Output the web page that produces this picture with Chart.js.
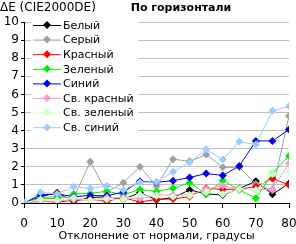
<!DOCTYPE html>
<html>
<head>
<meta charset="utf-8">
<script src="https://cdn.jsdelivr.net/npm/chart.js@4/dist/chart.umd.min.js"></script>
<style>
html, body { margin: 0; padding: 0; background: #fff; }
#wrap { width: 296px; height: 244px; }
</style>
</head>
<body>
<div id="wrap"><canvas id="chart"></canvas></div>
<script>
const angles = [0, 5, 10, 15, 20, 25, 30, 35, 40, 45, 50, 55, 60, 65, 70, 75, 80];
const seriesNames = ['Белый', 'Серый', 'Красный', 'Зеленый', 'Синий', 'Св. красный', 'Св. зеленый', 'Св. синий'];
const seriesColors = ['#000000', '#a0a0a0', '#ff0000', '#00ee00', '#0000ee', '#ff99cc', '#ccffcc', '#99ccff'];

const white = [0, 0.35, 0.57, 0.1, 0.3, 0.35, 0.2, 0.57, 0.18, 0.3, 0.72, 0.5, 0.44, 0.8, 1.2, 0.48, 1.08];
const gray = [0, 0.3, 0.35, 0.27, 2.28, 0.6, 1.12, 2.0, 0.93, 2.42, 2.3, 2.68, 1.97, 1.97, 1.05, 0.7, 4.8];
const red = [0, 0.1, 0.05, 0.15, 0.2, 0.1, 0.3, 0.05, 0.2, 0.22, 0.35, 0.81, 0.75, 0.77, 0.9, 1.36, 0.99];
const green = [0, 0.25, 0.25, 0.5, 0.53, 0.65, 0.45, 0.75, 0.64, 0.81, 1.12, 0.5, 1.25, 0.72, 0.26, 1.63, 2.6];
const blue = [0, 0.45, 0.5, 0.35, 0.42, 0.4, 0.6, 1.2, 1.15, 1.23, 1.41, 1.63, 1.52, 2.04, 3.43, 3.43, 4.06];
const lightRed = [0, 0.1, 0.1, 0.2, 0.15, 0.3, 0.3, 0.25, 0.44, 0.45, 0.45, 0.77, 0.95, 0.77, 0.72, 0.77, 2.19];
const lightGreen = [0, 0.2, 0.15, 0.3, 0.15, 0.2, 0.2, 0.45, 0.4, 0.35, 0.4, 0.6, 0.48, 0.77, 0.72, 1.6, 1.72];
const lightBlue = [0, 0.6, 0.5, 0.9, 0.8, 0.95, 0.72, 1.15, 1.17, 1.72, 2.24, 2.97, 2.4, 3.38, 3.23, 5.09, 5.34];

const seriesValues = [white, gray, red, green, blue, lightRed, lightGreen, lightBlue];

const chartTitle = 'По горизонтали';
const yTitle = 'ΔE (CIE2000DE)';
const xTitle = 'Отклонение от нормали, градусы';

const FONT = "'DejaVu Sans', sans-serif";
Chart.defaults.font.family = FONT;
Chart.defaults.color = '#000';

const datasets = seriesValues.map((vals, i) => {
    return {
        label: seriesNames[i],
        data: vals.map((v, j) => ({ x: angles[j], y: v })),
        borderColor: seriesColors[i],
        backgroundColor: seriesColors[i],
        borderWidth: 1,
        pointStyle: 'rectRot',
        pointRadius: 4,
        pointBorderWidth: 0,
        order: seriesValues.length - i
    }
})

// legend inside the plot + titles, drawn by hand
const overlay = {
    id: 'overlay',
    afterDraw(chart) {
        const ctx = chart.ctx;
        ctx.save();
        ctx.fillStyle = '#fff';
        ctx.fillRect(31, 16, 107, 118);
        ctx.font = '11px ' + FONT;
        ctx.textBaseline = 'middle';
        ctx.textAlign = 'left';
        seriesNames.forEach((name, i) => {
            const y = 25 + i * 14.6;
            ctx.strokeStyle = seriesColors[i];
            ctx.lineWidth = 1;
            ctx.beginPath();
            ctx.moveTo(33, y + 0.5);
            ctx.lineTo(61, y + 0.5);
            ctx.stroke();
            ctx.fillStyle = seriesColors[i];
            ctx.beginPath();
            ctx.moveTo(47, y - 4);
            ctx.lineTo(51, y);
            ctx.lineTo(47, y + 4);
            ctx.lineTo(43, y);
            ctx.closePath();
            ctx.fill();
            ctx.fillStyle = '#000';
            ctx.fillText(name, 63, y + 1);
        });
        ctx.font = 'bold 11px ' + FONT;
        ctx.textAlign = 'center';
        ctx.fillText(chartTitle, 181, 8);
        ctx.font = '12px ' + FONT;
        ctx.textAlign = 'left';
        ctx.fillText(yTitle, 0, 8);
        ctx.restore();
    }
}

new Chart(document.getElementById('chart'), {
    type: 'line',
    data: { datasets: datasets },
    plugins: [overlay],
    options: {
        animation: false,
        responsive: true,
        maintainAspectRatio: false,
        layout: { padding: { top: 22, right: 7, left: 0, bottom: 0 } },
        plugins: {
            legend: { display: false },
            title: { display: false },
            tooltip: { enabled: false }
        },
        scales: {
            x: {
                type: 'linear',
                min: 0,
                max: 80,
                afterFit: (s) => { s.height = 41; s.paddingLeft = 0; s.paddingRight = 0 },
                ticks: { stepSize: 10, font: { size: 12 }, padding: 9, maxRotation: 0 },
                grid: { drawOnChartArea: false, drawTicks: true, tickLength: 5, tickColor: '#000' },
                border: { color: '#000' },
                title: { display: true, text: xTitle, font: { size: 11 }, padding: { top: 0, bottom: 1 } }
            },
            y: {
                min: 0,
                max: 10,
                afterFit: (s) => { s.width = 24 },
                ticks: { stepSize: 1, font: { size: 12 }, padding: 2 },
                grid: { color: '#c0c0c0', tickColor: '#000', tickLength: 3 },
                border: { color: '#000' }
            }
        }
    }
});
</script>
</body>
</html>
